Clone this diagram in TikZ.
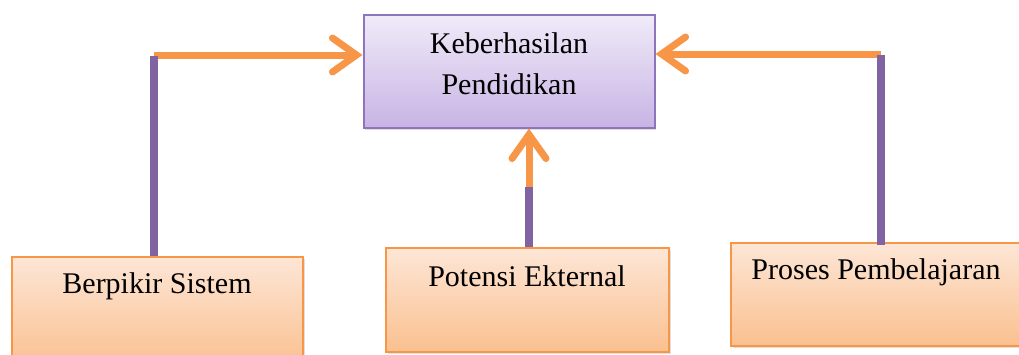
\documentclass[tikz,border=0pt]{standalone}
\usepackage{fontspec}
\setmainfont{Liberation Serif}
\usetikzlibrary{arrows.meta,shadows}
\definecolor{pline}{HTML}{8064A2}
\definecolor{oline}{HTML}{F79646}
\definecolor{ptop}{HTML}{F0EBF9}
\definecolor{pbot}{HTML}{C8B4E4}
\definecolor{pborder}{HTML}{8E74BA}
\definecolor{otop}{HTML}{FDE6D6}
\definecolor{obot}{HTML}{FAC08F}
\tikzset{
  boxshadow/.style={drop shadow={opacity=0.25, shadow xshift=1.5pt, shadow yshift=-2pt}},
  mainbox/.style={draw=pborder, line width=2pt, top color=ptop, bottom color=pbot, minimum width=291pt, minimum height=113pt, inner sep=0pt, boxshadow},
  factorbox/.style={draw=oline, line width=2pt, top color=otop, bottom color=obot, inner sep=0pt, boxshadow},
  txt/.style={font=\fontsize{30}{41}\selectfont, align=center},
  pconn/.style={draw=pline, line width=7.5pt},
  oconn/.style={draw=oline, line width=7pt, -{Straight Barb[length=24pt, width=34pt, line width=7pt, line cap=round]}},
  oplain/.style={draw=oline, line width=7pt}
}
\begin{document}
\begin{tikzpicture}[x=1pt, y=-1pt]
\useasboundingbox (0,0) rectangle (1019,354);
\node[mainbox] (kp) at (509,71) {};
\node[txt, anchor=center] (kpt) at (509,64) {Keberhasilan\\Pendidikan};

\node[factorbox, minimum width=291pt, minimum height=110pt, anchor=north west] (bs) at (11,256) {};
\node[txt, anchor=base] (bst) at (157,293) {Berpikir Sistem};

\node[factorbox, minimum width=283pt, minimum height=104pt, anchor=north west] (pe) at (385,247) {};
\node[txt, anchor=base] (pet) at (527,286) {Potensi Ekternal};

\node[factorbox, minimum width=291pt, minimum height=103pt, anchor=north west] (pp) at (730,242) {};
\node[txt, anchor=base] (ppt) at (876,279) {Proses Pembelajaran};

\coordinate (c1) at (154,55);
\coordinate (c1b) at (154,256);
\coordinate (c2) at (529,187);
\coordinate (c2b) at (529,247);
\coordinate (c3) at (881,54);
\coordinate (c3b) at (881,245);

\draw[oconn] (c1) -- (c1 -| kp.west);
\draw[pconn] (c1b) -- ([yshift=-1pt]c1);
\draw[oconn] (c3) -- (c3 -| kp.east);
\draw[pconn] (c3b) -- ([yshift=-1pt]c3);
\draw[oplain] ([yshift=-10pt]c2) -- ([yshift=-30pt]c2);
\draw[oconn] ([yshift=-12pt]c2) -- (c2 |- kp.south);
\draw[pconn] (c2b) -- (c2);
\end{tikzpicture}
\end{document}
